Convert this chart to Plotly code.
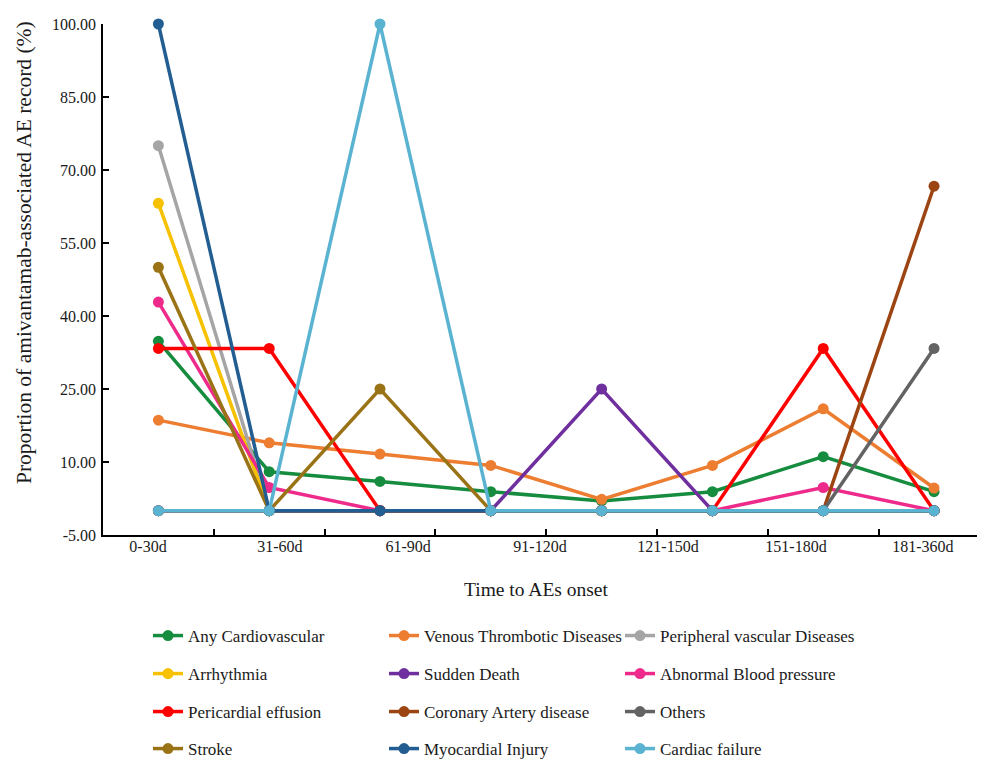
import plotly.graph_objects as go

# ---------------- data ----------------
x_pos = [0, 1, 2, 3, 4, 5, 6, 7]
x_tick_labels = ["0-30d", "31-60d", "61-90d", "91-120d", "121-150d", "151-180d", "181-360d"]
x_label_pos = [-0.094, 1.097, 2.253, 3.444, 4.599, 5.754, 6.90]
x_tick_marks = [0.5, 1.5, 2.5, 3.5, 4.5, 5.5, 6.5]
y_tick_vals = [-5, 10, 25, 40, 55, 70, 85, 100]
y_tick_text = ["-5.00", "10.00", "25.00", "40.00", "55.00", "70.00", "85.00", "100.00"]

any_cardio = [34.8, 8.0, 6.0, 3.9, 2.0, 3.9, 11.1, 3.9]
venous = [18.60, 13.95, 11.63, 9.30, 2.33, 9.30, 20.93, 4.65]
peripheral = [75.0, 0, 0, 0, 0, 0, 0, 0]
arrhythmia = [63.16, 0, 0, 0, 0, 0, 0, 0]
sudden_death = [0, 0, 0, 0, 25.0, 0, 0, 0]
abnormal_bp = [42.86, 4.76, 0, 0, 0, 0, 4.76, 0]
pericardial = [33.33, 33.33, 0, 0, 0, 0, 33.33, 0]
coronary = [0, 0, 0, 0, 0, 0, 0, 66.67]
others = [0, 0, 0, 0, 0, 0, 0, 33.33]
stroke = [50.0, 0, 25.0, 0, 0, 0, 0, 0]
myocardial = [100.0, 0, 0, 0, 0, 0, 0, 0]
cardiac_failure = [0, 0, 100.0, 0, 0, 0, 0, 0]

series = [
    ("Any Cardiovascular", any_cardio, "#168c3f", "legend"),
    ("Venous Thrombotic Diseases", venous, "#ed7d31", "legend"),
    ("Peripheral vascular Diseases", peripheral, "#a5a5a5", "legend"),
    ("Arrhythmia", arrhythmia, "#f6c100", "legend2"),
    ("Sudden Death", sudden_death, "#6f2f9f", "legend2"),
    ("Abnormal Blood pressure", abnormal_bp, "#ee2b8b", "legend2"),
    ("Pericardial effusion", pericardial, "#ff0000", "legend3"),
    ("Coronary Artery disease", coronary, "#9c4512", "legend3"),
    ("Others", others, "#636363", "legend3"),
    ("Stroke", stroke, "#9a7316", "legend4"),
    ("Myocardial Injury", myocardial, "#235e92", "legend4"),
    ("Cardiac failure", cardiac_failure, "#5ab3d1", "legend4"),
]

FONT = "Liberation Serif"
TXT = "#1a1a1a"
fig = go.Figure()
for name, vals, color, leg in series:
    fig.add_trace(go.Scatter(
        x=x_pos, y=vals, name=name, mode="lines+markers",
        line=dict(color=color, width=3.5),
        marker=dict(color=color, size=11),
        legend=leg, cliponaxis=False,
    ))

# invisible helper trace so the label axis is active
fig.add_trace(go.Scatter(x=[x_pos[0]], y=[0], xaxis="x2", mode="markers",
                         marker=dict(opacity=0), showlegend=False, hoverinfo="skip"))

# the page body adds an 8px offset; size the figure so it fills the window
OFF = 8
W, H = 985 - OFF, 760 - OFF
ml, mr, mt = 103 - OFF, 0, 24 - OFF
mb = H - (535 - OFF)
pw, ph = W - ml - mr, H - mt - mb

def px_x(p):
    return (p - OFF - ml) / pw

def px_y(p):
    return (H - mb - (p - OFF)) / ph

xr = [-0.5, 7.46]
fig.update_layout(
    width=W, height=H,
    margin=dict(l=ml, r=mr, t=mt, b=mb, autoexpand=False),
    plot_bgcolor="white", paper_bgcolor="white",
    font=dict(family=FONT, size=16, color=TXT),
    xaxis=dict(range=xr, tickmode="array", tickvals=x_tick_marks, ticktext=[""] * len(x_tick_marks),
               ticks="inside", ticklen=6, tickwidth=1.5, tickcolor="black",
               showline=True, linecolor="black", linewidth=1.5, showgrid=False, zeroline=False),
    xaxis2=dict(range=xr, overlaying="x", side="bottom", tickmode="array",
                tickvals=x_label_pos, ticktext=x_tick_labels, ticks="", showline=False,
                showgrid=False, zeroline=False, tickfont=dict(family=FONT, size=16, color=TXT)),
    yaxis=dict(range=[-5, 100], tickmode="array", tickvals=y_tick_vals, ticktext=y_tick_text,
               ticks="inside", ticklen=6, tickwidth=1.5, tickcolor="black",
               showline=True, linecolor="black", linewidth=1.5, showgrid=False, zeroline=False,
               tickfont=dict(family=FONT, size=16, color=TXT), ticklabelstandoff=2),
    hovermode=False,
)

fig.add_annotation(text="Proportion of amivantamab-associated AE record (%)",
                   xref="paper", yref="paper", x=px_x(24), y=px_y(253),
                   xanchor="center", yanchor="middle",
                   textangle=-90, showarrow=False,
                   font=dict(family=FONT, size=21.5, color=TXT))
fig.add_annotation(text="Time to AEs onset",
                   xref="paper", yref="paper", x=px_x(536), y=px_y(589),
                   xanchor="center", yanchor="middle", showarrow=False,
                   font=dict(family=FONT, size=19.5, color=TXT))

row_centers = [636, 674, 712, 749]
for i, key in enumerate(["legend", "legend2", "legend3", "legend4"]):
    fig.update_layout({key: dict(
        orientation="h", x=px_x(148), xanchor="left", y=px_y(row_centers[i]), yanchor="middle",
        entrywidth=191, entrywidthmode="pixels", bgcolor="rgba(0,0,0,0)",
        font=dict(family=FONT, size=17, color=TXT), itemclick=False, itemdoubleclick=False,
    )})

fig.write_html("out.html")
